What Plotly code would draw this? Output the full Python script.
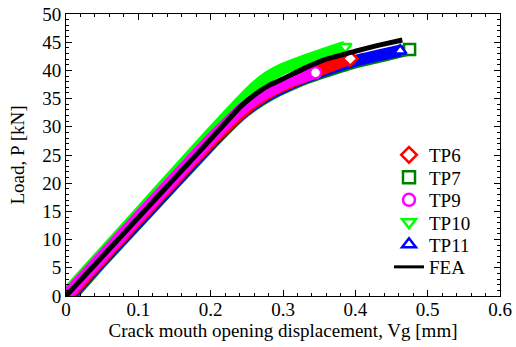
import plotly.graph_objects as go

# ---- data (CMOD Vg [mm], Load P [kN]) ----
tp6_v = [0.000, 0.05, 0.10, 0.15, 0.20, 0.24, 0.26, 0.28, 0.30, 0.33, 0.35, 0.37, 0.393]
tp6_p = [-0.5, 6.6, 13.6, 20.5, 27.3, 32.2, 34.3, 36.0, 37.3, 38.9, 40.0, 41.0, 42.1]

tp7_v = [0.008, 0.05, 0.10, 0.15, 0.20, 0.24, 0.26, 0.28, 0.30, 0.33, 0.36, 0.40, 0.44, 0.475]
tp7_p = [0.0, 6.1, 13.0, 19.9, 26.8, 31.9, 33.9, 35.5, 36.8, 38.5, 39.8, 41.4, 42.6, 43.7]

tp9_v = [0.000, 0.05, 0.10, 0.15, 0.20, 0.24, 0.26, 0.28, 0.30, 0.32, 0.345]
tp9_p = [0.0, 7.0, 14.0, 20.9, 27.8, 32.8, 34.8, 36.3, 37.6, 38.6, 39.6]

tp10_v = [0.000, 0.05, 0.10, 0.15, 0.20, 0.24, 0.26, 0.28, 0.30, 0.32, 0.34, 0.36, 0.386]
tp10_p = [0.4, 7.5, 14.6, 21.7, 28.8, 34.3, 36.9, 38.9, 40.3, 41.3, 42.2, 43.1, 44.2]

tp11_v = [0.005, 0.05, 0.10, 0.15, 0.20, 0.24, 0.26, 0.28, 0.30, 0.33, 0.36, 0.40, 0.43, 0.462]
tp11_p = [0.0, 6.3, 13.2, 20.1, 27.0, 32.1, 34.1, 35.7, 37.0, 38.7, 40.1, 41.7, 42.6, 43.5]

fea_v = [0.000, 0.05, 0.10, 0.15, 0.20, 0.24, 0.26, 0.27, 0.28, 0.29, 0.30, 0.33, 0.36, 0.40, 0.43, 0.465]
fea_p = [0.0, 6.95, 13.9, 20.85, 27.8, 33.4, 35.6, 36.5, 37.3, 37.9, 38.5, 40.4, 42.0, 43.4, 44.4, 45.4]

x_ticks = [0, 0.1, 0.2, 0.3, 0.4, 0.5, 0.6]
x_tick_labels = ["0", "0.1", "0.2", "0.3", "0.4", "0.5", "0.6"]
y_ticks = [0, 5, 10, 15, 20, 25, 30, 35, 40, 45, 50]

FONT = "Liberation Serif"
FS = 19

W, H = 516, 347
ML, MR, MT, MB = 66, 16, 14, 51
PLOT_BOTTOM = H - MB
PLOT_H = H - MT - MB
PLOT_W = W - ML - MR

series = [
    # name, v, p, colour, symbol, legend slot
    ("TP7", tp7_v, tp7_p, "#008000", "square", 1),
    ("TP11", tp11_v, tp11_p, "#0000ff", "triangle-up", 4),
    ("TP6", tp6_v, tp6_p, "#ff0000", "diamond", 0),
    ("TP10", tp10_v, tp10_p, "#00ff00", "triangle-down", 3),
    ("TP9", tp9_v, tp9_p, "#ff00ff", "circle", 2),
]

legend_centres_px = [155, 177.5, 200, 222.3, 244.5, 267]
legend_ids = ["legend", "legend2", "legend3", "legend4", "legend5", "legend6"]

fig = go.Figure()

# thick bands
for name, v, p, col, sym, slot in series:
    fig.add_trace(go.Scatter(
        x=v, y=p, mode="lines", line=dict(color=col, width=12, shape="spline", smoothing=0.3),
        showlegend=False, hoverinfo="skip"))

# end markers (white interior)
for name, v, p, col, sym, slot in series:
    fig.add_trace(go.Scatter(
        x=[v[-1]], y=[p[-1]], mode="markers", name=name,
        marker=dict(symbol=sym, size=11, color="white", line=dict(color=col, width=2.5)),
        showlegend=False, cliponaxis=False))

fig.add_trace(go.Scatter(
    x=fea_v, y=fea_p, mode="lines", name="FEA", showlegend=False,
    line=dict(color="black", width=5, shape="spline", smoothing=0.3)))

# legend entries
for name, v, p, col, sym, slot in sorted(series, key=lambda s: s[5]):
    fig.add_trace(go.Scatter(
        x=[None], y=[None], mode="markers", name=name, legend=legend_ids[slot],
        marker=dict(symbol=sym + "-open", size=12, color=col, line=dict(color=col, width=2.5))))
fig.add_trace(go.Scatter(
    x=[None], y=[None], mode="lines", name="FEA", legend=legend_ids[5],
    line=dict(color="black", width=3)))

axis_common = dict(
    showline=True, linecolor="black", linewidth=1, mirror="allticks",
    ticks="inside", ticklen=6, tickwidth=1, tickcolor="black",
    showgrid=False, zeroline=False, automargin=False,
    tickfont=dict(family=FONT, size=FS, color="black"),
)

fig.update_xaxes(
    range=[0, 0.6], tickvals=x_ticks, ticktext=x_tick_labels, ticklabelstandoff=-4,
    minor=dict(dtick=0.02, ticks="inside", ticklen=3, tickcolor="black", showgrid=False),
    title=dict(text="Crack mouth opening displacement, Vg [mm]",
               font=dict(family=FONT, size=FS, color="black"), standoff=0),
    **axis_common)
fig.update_yaxes(
    range=[0, 50], tickvals=y_ticks,
    minor=dict(dtick=1, ticks="inside", ticklen=3, tickcolor="black", showgrid=False),
    title=dict(text="Load, P [kN]", font=dict(family=FONT, size=FS, color="black"), standoff=12),
    **axis_common)

legend_x = (389 - ML) / PLOT_W
legends = {}
for i, lid in enumerate(legend_ids):
    legends[lid] = dict(
        x=legend_x, y=(PLOT_BOTTOM - legend_centres_px[i]) / PLOT_H,
        xanchor="left", yanchor="middle", bgcolor="rgba(0,0,0,0)",
        font=dict(family=FONT, size=FS, color="black"), borderwidth=0)

fig.update_layout(
    width=W, height=H,
    margin=dict(l=ML, r=MR, t=MT, b=MB),
    plot_bgcolor="white", paper_bgcolor="white",
    font=dict(family=FONT, size=FS, color="black"),
    **legends,
)

fig.write_html("out.html", config={"displayModeBar": False},
               post_script="document.body.style.margin='0';document.body.style.overflow='hidden';")
